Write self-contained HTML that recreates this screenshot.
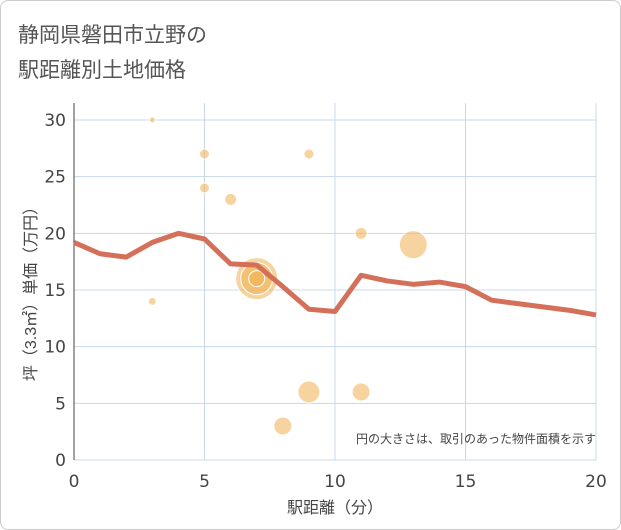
<!DOCTYPE html>
<html><head><meta charset="utf-8"><style>
body{margin:0;background:#fff;font-family:"Liberation Sans","Noto Sans CJK JP",sans-serif}
#c{position:absolute;left:0;top:0;width:619px;height:528px;border:1px solid #ccc;border-radius:8px;background:#fff}
</style></head><body>
<div id="c">
<svg width="621" height="530" style="position:absolute;left:-1px;top:-1px">
<text x="18" y="42" font-size="21" fill="#555" font-family="Liberation Sans,Noto Sans CJK JP,sans-serif">静岡県磐田市立野の</text>
<text x="18" y="77" font-size="21" fill="#555" font-family="Liberation Sans,Noto Sans CJK JP,sans-serif">駅距離別土地価格</text>
<g id="plot"></g>
<text x="596" y="443" font-size="12" fill="#444" text-anchor="end" font-family="Liberation Sans,Noto Sans CJK JP,sans-serif">円の大きさは、取引のあった物件面積を示す</text>
<text x="335" y="513" font-size="16" fill="#444" text-anchor="middle" font-family="Liberation Sans,Noto Sans CJK JP,sans-serif">駅距離（分）</text>
<text transform="translate(36,290) rotate(-90)" font-size="16" fill="#444" text-anchor="middle" font-family="Liberation Sans,Noto Sans CJK JP,sans-serif">坪（3.3㎡）単価（万円）</text>
</svg></div>
<script>
const xTicks=[0,5,10,15,20];
const yTicks=[0,5,10,15,20,25,30];
const lineX=[0,1,2,3,4,5,6,7,8,9,10,11,12,13,14,15,16,17,18,19,20];
const lineY=[19.2,18.2,17.9,19.2,20,19.5,17.3,17.2,15.3,13.3,13.1,16.3,15.8,15.5,15.7,15.3,14.1,13.8,13.5,13.2,12.8];
const bubX=[3,5,9,5,6,11,13,7,7,7,3,9,11,8];
const bubY=[30,27,27,24,23,20,19,16,16,16,14,6,6,3];
const bubR=[3,5,5,5,6,6,14,21,16,8,4,11,9,9];
const NS="http://www.w3.org/2000/svg";
const X0=74,X1=596,Y0=460,Y1=120,YMAX=30;
const sx=v=>X0+(X1-X0)*v/20, sy=v=>Y0-(Y0-Y1)*v/YMAX;
const g=document.getElementById('plot');
function mk(t,a){const e=document.createElementNS(NS,t);for(const k in a)e.setAttribute(k,a[k]);g.appendChild(e);return e;}
let bg=mk('rect',{x:X0,y:103,width:X1-X0,height:Y0-103,fill:'#fff'});


xTicks.forEach(v=>{
 let l=mk('line',{x1:sx(v),x2:sx(v),y1:103,y2:Y0,stroke:'#c8d8e8','stroke-width':1});
 
 
 let t=mk('text',{x:sx(v),y:487,'font-size':17,fill:'#444','text-anchor':'middle','font-family':'DejaVu Sans,sans-serif'});t.textContent=v;
 
 
});
yTicks.forEach(v=>{
 let l=mk('line',{x1:X0,x2:X1,y1:sy(v),y2:sy(v),stroke:'#c8d8e8','stroke-width':1});
 
 
 let t=mk('text',{x:66,y:sy(v)+6,'font-size':17,fill:'#444','text-anchor':'end','font-family':'DejaVu Sans,sans-serif'});t.textContent=v;
 
 
});
let ax=mk('line',{x1:X0,x2:X0,y1:103,y2:Y0,stroke:'#444','stroke-width':1});


bubX.forEach((v,i)=>{
 let c=mk('circle',{cx:sx(v),cy:sy(bubY[i]),r:bubR[i],fill:'#f0b050','fill-opacity':0.55,stroke:'#fff','stroke-width':1});
 
 
});
let p=mk('polyline',{points:lineX.map((v,i)=>sx(v)+','+sy(lineY[i])).join(' '),fill:'none',stroke:'#d4705a','stroke-width':5,'stroke-linejoin':'round'});


</script>
</body></html>
